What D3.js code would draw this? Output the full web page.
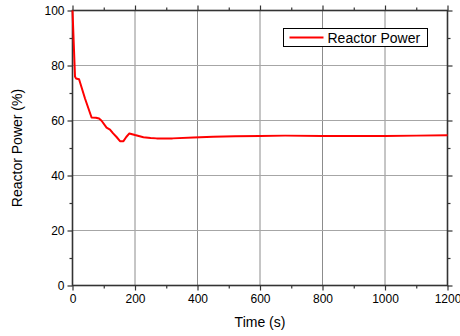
<!DOCTYPE html>
<html>
<head>
<meta charset="utf-8">
<script src="https://cdn.jsdelivr.net/npm/d3@7"></script>
<style>
  body { margin: 0; background: #fff; }
  text { font-family: "Liberation Sans", Arial, sans-serif; }
</style>
</head>
<body>
<div id="chart"></div>
<script>
var time = [0, 8, 11, 21, 40, 61, 75, 85, 93, 109, 120, 130, 141, 152, 163, 172, 182, 200, 227, 250, 269, 320, 387, 450, 520, 600, 680, 800, 900, 1000, 1100, 1200];
var power = [100, 76, 75.3, 75, 68, 61.1, 61, 60.7, 59.9, 57.4, 56.7, 55.3, 54, 52.5, 52.5, 54, 55.3, 54.7, 53.9, 53.6, 53.5, 53.5, 53.8, 54.1, 54.3, 54.4, 54.5, 54.4, 54.4, 54.4, 54.5, 54.6];
var xTicks = [0, 200, 400, 600, 800, 1000, 1200];
var yTicks = [0, 20, 40, 60, 80, 100];
var seriesName = "Reactor Power";

var margin = { left: 72.5, right: 12.5, top: 10.5, bottom: 50.5 };
var W = 460, H = 336;

var svg = d3.select("#chart").append("svg")
  .attr("width", W)
  .attr("height", H);

var x = d3.scaleLinear().domain([0, 1200]).range([margin.left, W - margin.right]);
var y = d3.scaleLinear().domain([0, 100]).range([H - margin.bottom, margin.top]);

var x0 = margin.left, x1 = W - margin.right, y0 = H - margin.bottom, y1 = margin.top;

// grid
svg.append("g").selectAll("line")
  .data(xTicks.slice(1, -1))
  .enter().append("line")
  .attr("x1", function(d) { return x(d); })
  .attr("x2", function(d) { return x(d); })
  .attr("y1", y0).attr("y2", y1)
  .attr("stroke", "#8c8c8c").attr("stroke-width", 1);

svg.append("g").selectAll("line")
  .data(yTicks.slice(1, -1))
  .enter().append("line")
  .attr("y1", function(d) { return y(d); })
  .attr("y2", function(d) { return y(d); })
  .attr("x1", x0).attr("x2", x1)
  .attr("stroke", "#a6a6a6").attr("stroke-width", 1);

// axes
var xMinor = d3.range(100, 1200, 200);
var yMinor = d3.range(10, 100, 20);

function axisLines(g) {
  g.select(".domain").remove();
  g.selectAll(".tick line").attr("stroke", "#333").attr("stroke-width", 1.2);
  g.selectAll(".tick text").attr("fill", "#000").style("font-size", "12px").style("font-family", "Liberation Sans, Arial, sans-serif");
}

svg.append("g").attr("transform", "translate(0," + y0 + ")")
  .call(d3.axisBottom(x).tickValues(xTicks).tickSize(5).tickPadding(4).tickFormat(d3.format("d")))
  .call(axisLines);
svg.append("g").attr("transform", "translate(0," + y0 + ")")
  .call(d3.axisBottom(x).tickValues(xMinor).tickSize(3).tickFormat(""))
  .call(axisLines);

svg.append("g").attr("transform", "translate(0," + y1 + ")")
  .call(d3.axisTop(x).tickValues(xTicks).tickSize(5).tickFormat(""))
  .call(axisLines);
svg.append("g").attr("transform", "translate(0," + y1 + ")")
  .call(d3.axisTop(x).tickValues(xMinor).tickSize(3).tickFormat(""))
  .call(axisLines);

svg.append("g").attr("transform", "translate(" + x0 + ",0)")
  .call(d3.axisLeft(y).tickValues(yTicks).tickSize(5).tickPadding(3))
  .call(axisLines);
svg.append("g").attr("transform", "translate(" + x0 + ",0)")
  .call(d3.axisLeft(y).tickValues(yMinor).tickSize(3).tickFormat(""))
  .call(axisLines);

svg.append("g").attr("transform", "translate(" + x1 + ",0)")
  .call(d3.axisRight(y).tickValues(yTicks).tickSize(5).tickFormat(""))
  .call(axisLines);
svg.append("g").attr("transform", "translate(" + x1 + ",0)")
  .call(d3.axisRight(y).tickValues(yMinor).tickSize(3).tickFormat(""))
  .call(axisLines);

// frame
svg.append("rect")
  .attr("x", x0).attr("y", y1)
  .attr("width", x1 - x0).attr("height", y0 - y1)
  .attr("fill", "none").attr("stroke", "#333").attr("stroke-width", 1.6);

// line
var data = time.map(function(t, i) { return { t: t, p: power[i] }; });
var line = d3.line()
  .x(function(d) { return x(d.t); })
  .y(function(d) { return y(d.p); });

svg.append("path")
  .datum(data)
  .attr("d", line)
  .attr("fill", "none")
  .attr("stroke", "#ff0000")
  .attr("stroke-width", 2)
  .attr("stroke-linejoin", "round");

// legend
var lg = svg.append("g").attr("transform", "translate(283.5,28.5)");
lg.append("rect").attr("width", 144).attr("height", 18)
  .attr("fill", "#fff").attr("stroke", "#000").attr("stroke-width", 1);
lg.append("line").attr("x1", 6).attr("x2", 40).attr("y1", 9).attr("y2", 9)
  .attr("stroke", "#ff0000").attr("stroke-width", 2);
lg.append("text").attr("x", 44).attr("y", 14)
  .style("font-size", "14px").text(seriesName);

// titles
svg.append("text")
  .attr("x", (x0 + x1) / 2).attr("y", 327)
  .attr("text-anchor", "middle")
  .style("font-size", "14px")
  .text("Time (s)");

svg.append("text")
  .attr("transform", "translate(22," + (y0 + y1) / 2 + ") rotate(-90)")
  .attr("text-anchor", "middle")
  .style("font-size", "14px")
  .text("Reactor Power (%)");
</script>
</body>
</html>
